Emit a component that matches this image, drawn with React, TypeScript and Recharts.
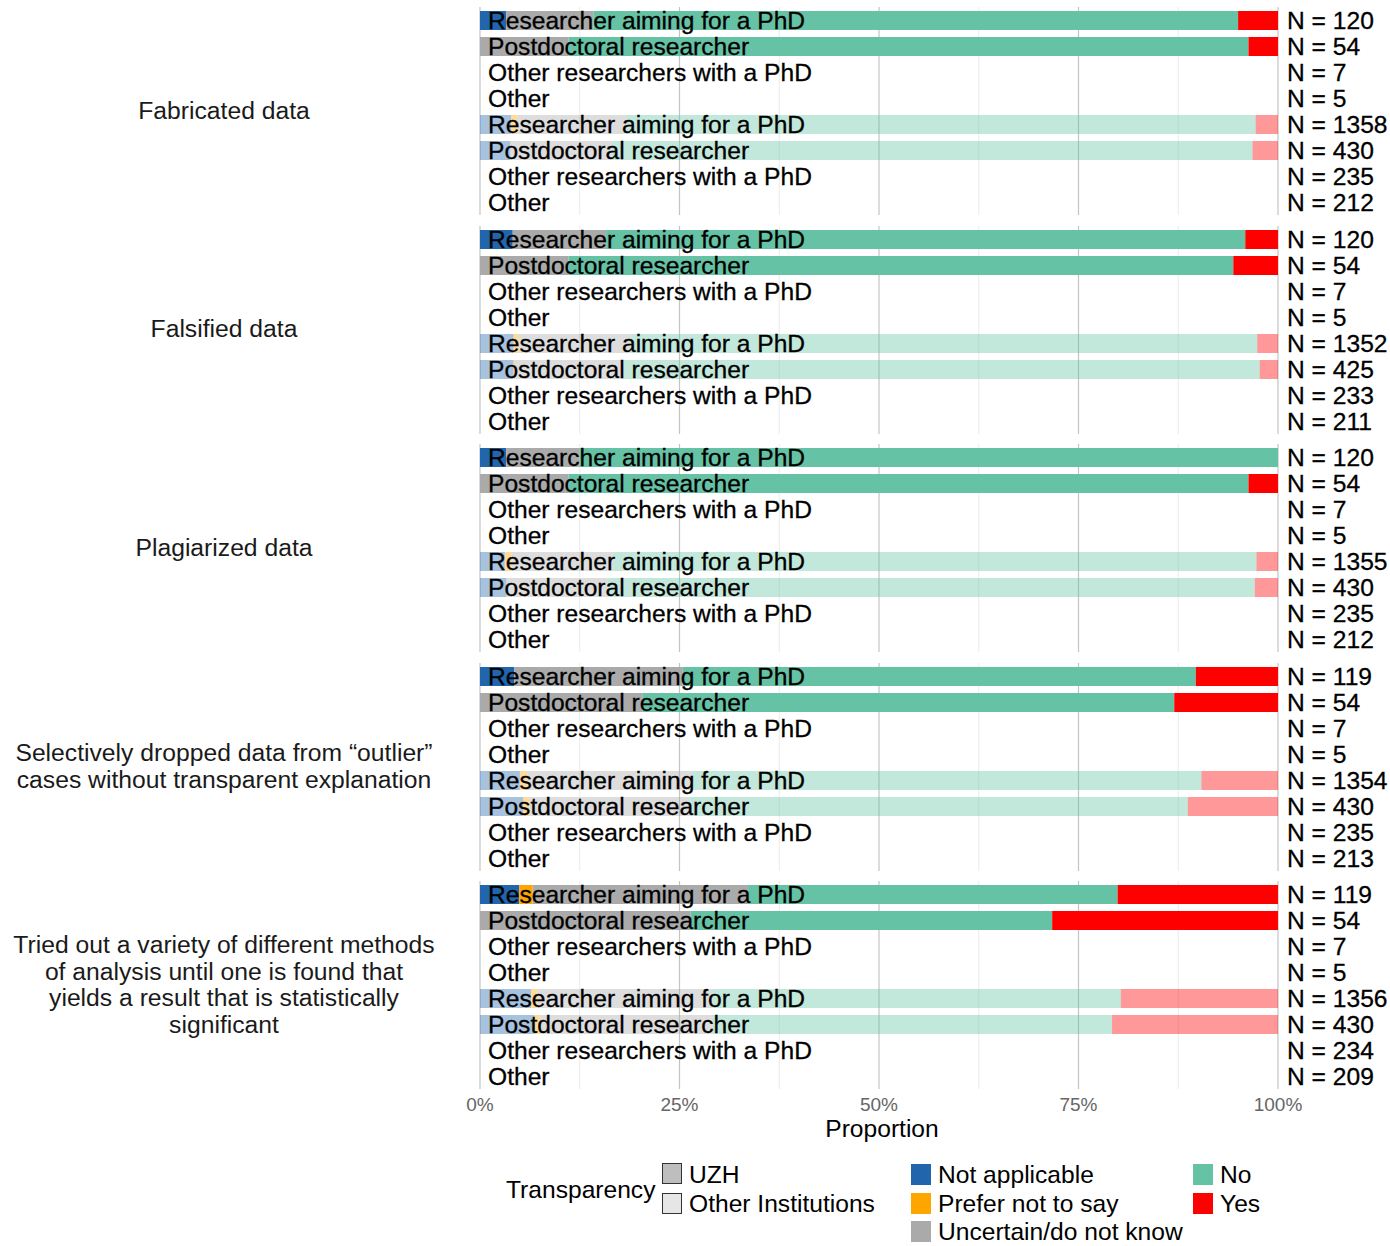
import { Bar, BarChart, CartesianGrid, Cell, XAxis, YAxis } from "recharts";

const FONT = "'Liberation Sans', Arial, Helvetica, sans-serif";
const TXT = 24.6;

const QUESTIONS = [
  "Fabricated data",
  "Falsified data",
  "Plagiarized data",
  "Selectively dropped data from \u201coutlier\u201d\ncases without transparent explanation",
  "Tried out a variety of different methods\nof analysis until one is found that\nyields a result that is statistically\nsignificant",
];

const ROLES = [
  "Researcher aiming for a PhD",
  "Postdoctoral researcher",
  "Other researchers with a PhD",
  "Other",
];

const INSTITUTIONS = ["UZH", "Other Institutions"];

const RESPONSES = [
  { key: "na", name: "Not applicable", color: "#2166AC" },
  { key: "pns", name: "Prefer not to say", color: "#FFA500" },
  { key: "unc", name: "Uncertain/do not know", color: "#AAAAAA" },
  { key: "no", name: "No", color: "#66C2A5" },
  { key: "yes", name: "Yes", color: "#FF0000" },
];

const X_TICKS = [0, 12.5, 25, 37.5, 50, 62.5, 75, 87.5, 100];

// rows per question: UZH x 4 roles, then Other Institutions x 4 roles
const N_COUNTS = [
  [120, 54, 7, 5, 1358, 430, 235, 212],
  [120, 54, 7, 5, 1352, 425, 233, 211],
  [120, 54, 7, 5, 1355, 430, 235, 212],
  [119, 54, 7, 5, 1354, 430, 235, 213],
  [119, 54, 7, 5, 1356, 430, 234, 209],
];

// percentages per segment (null = not shown)
const NOT_APPLICABLE = [
  [3.3, 0, null, null, 3.9, 3.8, null, null],
  [4.1, 0, null, null, 4.2, 4.2, null, null],
  [3.3, 0, null, null, 3.1, 3.3, null, null],
  [4.3, 0, null, null, 5.0, 5.4, null, null],
  [4.9, 0, null, null, 6.4, 6.8, null, null],
];

const PREFER_NOT = [
  [0, 0, null, null, 0.8, 0, null, null],
  [0, 0, null, null, 0.7, 0.2, null, null],
  [0, 0, null, null, 0.9, 0, null, null],
  [0, 0, null, null, 0.9, 0.8, null, null],
  [1.7, 0, null, null, 0.8, 0.8, null, null],
];

const UNCERTAIN = [
  [10.9, 11.1, null, null, 13.7, 12.7, null, null],
  [11.7, 11.1, null, null, 14.0, 13.6, null, null],
  [9.2, 11.1, null, null, 12.7, 12.7, null, null],
  [21.1, 20.4, null, null, 20.8, 20.0, null, null],
  [27.0, 26.4, null, null, 22.0, 21.6, null, null],
];

const NO = [
  [80.8, 85.2, null, null, 78.8, 80.3, null, null],
  [80.1, 83.3, null, null, 78.5, 79.7, null, null],
  [87.5, 85.2, null, null, 80.6, 81.1, null, null],
  [64.3, 66.6, null, null, 63.7, 62.5, null, null],
  [46.3, 45.3, null, null, 51.1, 50.0, null, null],
];

const YES = [
  [5.0, 3.7, null, null, 2.8, 3.2, null, null],
  [4.1, 5.6, null, null, 2.6, 2.3, null, null],
  [0, 3.7, null, null, 2.7, 2.9, null, null],
  [10.3, 13.0, null, null, 9.6, 11.3, null, null],
  [20.1, 28.3, null, null, 19.7, 20.8, null, null],
];

const PLOT_LEFT = 480;
const PLOT_RIGHT = 1278;
const CHART_W = 1390;
const PANEL_H = 208;
const PANEL_TOP = 7;
const PANEL_STEP = 218.5;
const AXIS_H = 40;
const LEGEND_ROWS = [1175, 1204, 1232];

function facetRows(q: number) {
  const rows: any[] = [];
  INSTITUTIONS.forEach((inst, a) => {
    ROLES.forEach((role, b) => {
      const i = a * ROLES.length + b;
      rows.push({
        key: `${inst}|${role}`,
        inst,
        role,
        n: N_COUNTS[q][i],
        na: NOT_APPLICABLE[q][i],
        pns: PREFER_NOT[q][i],
        unc: UNCERTAIN[q][i],
        no: NO[q][i],
        yes: YES[q][i],
      });
    });
  });
  return rows;
}

function gridLine(props: any) {
  const major = props.index % 2 === 0;
  return (
    <line
      key={props.key ?? `g-${props.index}`}
      x1={props.x1}
      x2={props.x2}
      y1={props.y1}
      y2={props.y2}
      stroke={major ? "#c4c4c4" : "#ebebeb"}
      strokeWidth={major ? 1.2 : 1}
    />
  );
}

function Facet({ q, last }: { q: number; last: boolean }) {
  const rows = facetRows(q);
  const height = PANEL_H + (last ? AXIS_H : 0);

  const rowTick = (p: any) => {
    const row = rows.find((r) => r.key === p.payload.value);
    if (!row) return <g />;
    const textProps = {
      y: p.y,
      dominantBaseline: "central" as const,
      fontFamily: FONT,
      fontSize: TXT,
      fill: "#000",
      stroke: "#000",
      strokeWidth: 0.3,
    };
    return (
      <g>
        <text x={PLOT_LEFT + 8} {...textProps}>
          {row.role}
        </text>
        <text x={PLOT_RIGHT + 9} {...textProps}>
          {`N = ${row.n}`}
        </text>
      </g>
    );
  };

  return (
    <div style={{ position: "absolute", left: 0, top: PANEL_TOP + q * PANEL_STEP }}>
      <BarChart
        width={CHART_W}
        height={height}
        data={rows}
        layout="vertical"
        margin={{ top: 0, right: CHART_W - PLOT_RIGHT, bottom: 0, left: PLOT_LEFT - 60 }}
        barCategoryGap={0}
      >
        <CartesianGrid horizontal={false} vertical={gridLine} />
        <XAxis
          type="number"
          domain={[0, 100]}
          ticks={X_TICKS}
          interval={0}
          hide={!last}
          height={AXIS_H}
          axisLine={false}
          tickLine={false}
          tickSize={6}
          tickMargin={3}
          tick={{ fill: "#666", fontSize: 19, fontFamily: FONT }}
          tickFormatter={(v: number) => (v % 25 === 0 ? `${v}%` : "")}
        />
        <YAxis
          type="category"
          dataKey="key"
          width={60}
          axisLine={false}
          tickLine={false}
          interval={0}
          tick={rowTick}
        />
        {RESPONSES.map((r) => (
          <Bar
            key={r.key}
            dataKey={r.key}
            name={r.name}
            stackId="s"
            fill={r.color}
            barSize={19}
            isAnimationActive={false}
          >
            {rows.map((row) => (
              <Cell
                key={row.key}
                fill={r.color}
                fillOpacity={row.inst === "UZH" ? 1 : 0.4}
              />
            ))}
          </Bar>
        ))}
      </BarChart>
    </div>
  );
}

function Swatch({ x, y, fill, border }: { x: number; y: number; fill: string; border?: boolean }) {
  return (
    <div
      style={{
        position: "absolute",
        left: x,
        top: y,
        width: border ? 18 : 20,
        height: border ? 19 : 21,
        background: fill,
        border: border ? "1px solid #333" : "none",
      }}
    />
  );
}

function LegendText({ x, y, children }: { x: number; y: number; children: any }) {
  return (
    <div
      style={{
        position: "absolute",
        left: x,
        top: y - 11,
        height: 22,
        lineHeight: "22px",
        fontSize: TXT,
        whiteSpace: "nowrap",
        color: "#000",
      }}
    >
      {children}
    </div>
  );
}

export default function App() {
  return (
    <div
      style={{
        position: "absolute",
        left: 0,
        top: 0,
        width: 1390,
        height: 1246,
        background: "#fff",
        fontFamily: FONT,
        overflow: "hidden",
      }}
    >
      {QUESTIONS.map((label, q) => (
        <div
          key={`lab-${q}`}
          style={{
            position: "absolute",
            left: 0,
            width: 448,
            top: PANEL_TOP + q * PANEL_STEP,
            height: PANEL_H,
            display: "flex",
            alignItems: "center",
            justifyContent: "center",
            textAlign: "center",
            whiteSpace: "pre-line",
            fontSize: 24.7,
            lineHeight: "26.5px",
            color: "#1a1a1a",
          }}
        >
          {label}
        </div>
      ))}

      {QUESTIONS.map((_, q) => (
        <Facet key={`f-${q}`} q={q} last={q === QUESTIONS.length - 1} />
      ))}

      <div
        style={{
          position: "absolute",
          left: PLOT_LEFT,
          width: PLOT_RIGHT - PLOT_LEFT + 6,
          top: 1115,
          textAlign: "center",
          fontSize: TXT,
          lineHeight: "28px",
          color: "#000",
        }}
      >
        Proportion
      </div>

      <LegendText x={506} y={1190}>Transparency</LegendText>
      <Swatch x={662} y={1163} fill="#bebebe" border />
      <LegendText x={689} y={LEGEND_ROWS[0]}>{INSTITUTIONS[0]}</LegendText>
      <Swatch x={662} y={1193} fill="#e6e6e6" border />
      <LegendText x={689} y={LEGEND_ROWS[1]}>{INSTITUTIONS[1]}</LegendText>

      {RESPONSES.slice(0, 3).map((r, i) => (
        <div key={r.key}>
          <Swatch x={911} y={LEGEND_ROWS[i] - 11} fill={r.color} />
          <LegendText x={938} y={LEGEND_ROWS[i]}>{r.name}</LegendText>
        </div>
      ))}
      {RESPONSES.slice(3).map((r, i) => (
        <div key={r.key}>
          <Swatch x={1193} y={LEGEND_ROWS[i] - 11} fill={r.color} />
          <LegendText x={1220} y={LEGEND_ROWS[i]}>{r.name}</LegendText>
        </div>
      ))}
    </div>
  );
}
